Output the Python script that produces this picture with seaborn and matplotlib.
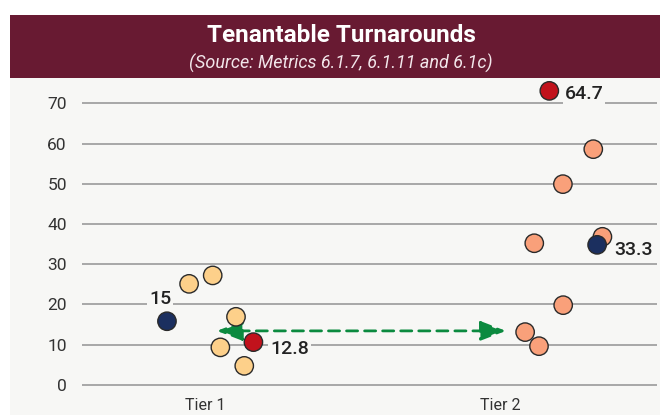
import matplotlib
matplotlib.use("Agg")
import matplotlib.pyplot as plt
from matplotlib.patches import Rectangle
import seaborn as sns
import pandas as pd

# data
tiers = ["Tier 1", "Tier 2"]
tier1_vals = [15.8, 25.1, 27.2, 16.9, 9.3, 4.7, 10.6]
tier1_jitter = [-0.129, -0.054, 0.026, 0.105, 0.052, 0.133, 0.164]
tier1_kind = ["low", "peer", "peer", "peer", "peer", "peer", "high"]
tier2_vals = [73.1, 58.6, 49.9, 36.8, 34.8, 35.2, 19.8, 13.1, 9.6]
tier2_jitter = [0.167, 0.316, 0.213, 0.347, 0.329, 0.116, 0.214, 0.085, 0.132]
tier2_kind = ["high", "peer", "peer", "peer", "low", "peer", "peer", "peer", "peer"]
labels = {("Tier 1", "low"): "15", ("Tier 1", "high"): "12.8",
          ("Tier 2", "low"): "33.3", ("Tier 2", "high"): "64.7"}
arrow_y = 13.4
arrow_x = [0.04, 1.02]

rows = []
for i, (vals, jit, kinds) in enumerate([(tier1_vals, tier1_jitter, tier1_kind),
                                        (tier2_vals, tier2_jitter, tier2_kind)]):
    for v, j, k in zip(vals, jit, kinds):
        rows.append({"tier": tiers[i], "x": i + j, "value": v, "kind": k})
df = pd.DataFrame(rows)

peer_colors = {"Tier 1": "#fdd08a", "Tier 2": "#f9a07a"}
df["color"] = [peer_colors[t] if k == "peer" else ("#1b2f5f" if k == "low" else "#c1121c")
               for t, k in zip(df["tier"], df["kind"])]

sns.set_theme(style="white")
plt.rcParams["font.family"] = ["Roboto", "DejaVu Sans"]

bg = "#f7f7f5"
fig = plt.figure(figsize=(6.6, 4.15), dpi=100)
fig.patch.set_facecolor("white")
fig.patches.append(Rectangle((10 / 660, 0), 650 / 660, 337 / 415, transform=fig.transFigure,
                             facecolor=bg, edgecolor="none", zorder=-5))
fig.patches.append(Rectangle((10 / 660, 337 / 415), 650 / 660, 63 / 415, transform=fig.transFigure,
                             facecolor="#681a32", edgecolor="none", zorder=-5))
fig.text(341 / 660, 1 - 42 / 415, "Tenantable Turnarounds", ha="center", va="baseline",
         color="white", fontsize=17.5, fontweight="bold")
fig.text(341 / 660, 1 - 69 / 415, "(Source: Metrics 6.1.7, 6.1.11 and 6.1c)", ha="center",
         va="baseline", color="#f2e6ea", fontsize=13, style="italic")

ax = fig.add_axes([82 / 660, 23 / 415, 575 / 660, 314 / 415])
ax.set_facecolor("none")

sns.scatterplot(data=df, x="x", y="value", hue="color", palette={c: c for c in df["color"].unique()},
                s=175, edgecolor="#2a2a2a", linewidth=1.0, legend=False, ax=ax, zorder=4)

ax.annotate("", xy=(arrow_x[0], arrow_y), xytext=(arrow_x[1], arrow_y),
            arrowprops=dict(arrowstyle="<|-|>,head_length=1.3,head_width=0.5", color="#0b8a3f",
                            lw=2, linestyle=(0, (4, 2.5)), shrinkA=0, shrinkB=0), zorder=3)

offsets = {("Tier 1", "low"): (-5, 16, "center"), ("Tier 1", "high"): (12, -5, "left"),
           ("Tier 2", "low"): (12, -4, "left"), ("Tier 2", "high"): (11, -2, "left")}
for _, r in df[df["kind"] != "peer"].iterrows():
    key = (r["tier"], r["kind"])
    dx, dy, ha = offsets[key]
    ax.annotate(labels[key], (r["x"], r["value"]), xytext=(dx, dy), textcoords="offset points",
                ha=ha, va="center", fontsize=14, fontweight="medium", color="#222222",
                bbox=dict(boxstyle="square,pad=0.1", facecolor=bg, edgecolor="none"), zorder=5)

ax.set_xlim(-0.417, 1.532)
ax.set_ylim(-1.8, 76.3)
ax.set_yticks(range(0, 80, 10))
ax.set_xticks([0, 1])
ax.set_xticklabels(tiers)
ax.grid(axis="y", color="#9a9a9a", linewidth=1.2)
ax.set_axisbelow(True)
ax.tick_params(axis="y", length=0, pad=11, labelsize=12.5, labelcolor="#333333")
ax.tick_params(axis="x", length=0, pad=4, labelsize=11.5, labelcolor="#333333")
ax.set_xlabel("")
ax.set_ylabel("")
sns.despine(ax=ax, left=True, bottom=True)

fig.savefig("out.png", dpi=100, facecolor=fig.get_facecolor())
